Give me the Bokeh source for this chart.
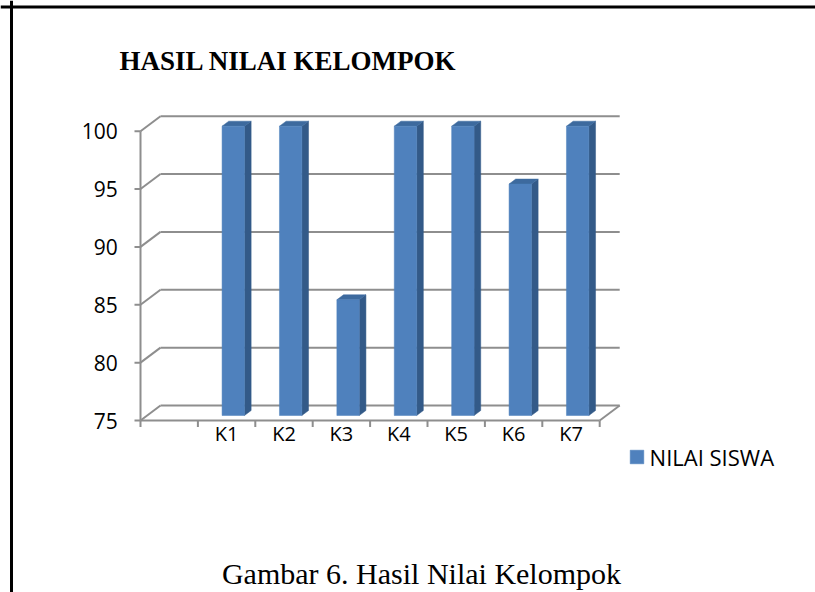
import numpy as np
from bokeh.plotting import figure
from bokeh.models import Range1d, Label, Span, Legend, LegendItem
from bokeh.embed import file_html
from bokeh.resources import INLINE
from bokeh.core.properties import value

# ---------------- data ----------------
categories = ["K1", "K2", "K3", "K4", "K5", "K6", "K7"]
nilai = [100, 100, 85, 100, 100, 95, 100]
y_ticks = [75, 80, 85, 90, 95, 100]
series_name = "NILAI SISWA"
title_text = "HASIL NILAI  KELOMPOK"
caption_text = "Gambar 6. Hasil Nilai Kelompok"

# ---------------- layout ----------------
W, H = 815, 592
X0_PX = 140.0      # px of the front value axis
YMIN_PX = 420.0    # px of the axis minimum on the front plane
PXX = 57.4         # px per category slot
PXY = 11.572       # px per value unit
first_slot = 1     # an empty slot precedes K1
n_slots = len(categories) + first_slot

ymin, ymax = min(y_ticks), max(y_ticks)
x_start = -X0_PX / PXX
x_end = (W - X0_PX) / PXX
y_top = ymin + YMIN_PX / PXY
y_bottom = ymin - (H - YMIN_PX) / PXY

DX = 20 / PXX      # depth offset (x) in data units
DY = 15 / PXY      # depth offset (y) in data units

GRID = "#8E8E8E"
FRONT = "#4F81BD"
SIDE = "#335A88"
TOP = "#3D6A9E"
FONT = "Open Sans"

p = figure(width=W, height=H, x_range=Range1d(x_start, x_end),
           y_range=Range1d(y_bottom, y_top), output_backend="svg",
           toolbar_location=None, x_axis_type=None, y_axis_type=None,
           min_border=0, title=None)
p.outline_line_color = None
p.background_fill_color = "white"
p.border_fill_color = "white"

# back wall gridlines
p.multi_line([[DX, n_slots + DX] for v in y_ticks],
             [[v + DY, v + DY] for v in y_ticks], line_color=GRID, line_width=2)
# left wall diagonals
p.multi_line([[0, DX] for v in y_ticks],
             [[v, v + DY] for v in y_ticks], line_color=GRID, line_width=2)
# front value axis
p.line([0, 0], [ymin, ymax], line_color=GRID, line_width=2)
# floor front edge and right edge
p.line([0, n_slots], [ymin, ymin], line_color=GRID, line_width=2)
p.line([n_slots, n_slots + DX], [ymin, ymin + DY], line_color=GRID, line_width=2)
# value ticks
p.segment(x0=[-6 / PXX] * len(y_ticks), y0=y_ticks, x1=[0] * len(y_ticks), y1=y_ticks,
          line_color=GRID, line_width=2)
# category ticks
cat_edges = list(range(n_slots + 1))
p.segment(x0=cat_edges, y0=[ymin] * len(cat_edges), x1=cat_edges,
          y1=[ymin - 6.5 / PXY] * len(cat_edges), line_color=GRID, line_width=2)

# bars (3D columns)
bw = 22.4 / PXX
idx = np.arange(len(categories))
cx = first_slot + idx + 0.5 + DX / 3
left = cx - bw / 2
right = cx + bw / 2
base = ymin + DY / 3
tops = np.array(nilai, dtype=float) + DY / 3
d_x, d_y = DX / 3, DY / 3

side_xs = [[r, r + d_x, r + d_x, r] for r in right]
side_ys = [[base, base + d_y, t + d_y, t] for t in tops]
top_xs = [[l, r, r + d_x, l + d_x] for l, r in zip(left, right)]
top_ys = [[t, t, t + d_y, t + d_y] for t in tops]

p.patches(side_xs, side_ys, fill_color=SIDE, line_color=SIDE, line_width=0.5)
p.patches(top_xs, top_ys, fill_color=TOP, line_color=TOP, line_width=0.5)
front = p.quad(left=left, right=right, bottom=[base] * len(categories), top=tops,
               fill_color=FRONT, line_color=FRONT, line_width=0.5)

# value tick labels
p.text(x=[-22.7 / PXX] * len(y_ticks), y=y_ticks, text=[str(v) for v in y_ticks],
       text_align="right", text_baseline="middle", text_font=value(FONT),
       text_font_size="21px", text_color="black")
# category labels
p.text(x=list(first_slot + idx + 0.5), y=[ymin - 12.5 / PXY] * len(categories),
       text=categories, text_align="center", text_baseline="middle",
       text_font=value(FONT), text_font_size="20px", text_color="black")

# legend
legend = Legend(items=[LegendItem(label=series_name, renderers=[front])],
                location=(627.6, H - 456.7 - 15))
legend.glyph_width = 17
legend.glyph_height = 17
legend.label_standoff = 5
legend.padding = 0
legend.margin = 0
legend.spacing = 0
legend.border_line_color = None
legend.background_fill_alpha = 0
legend.label_text_font = FONT
legend.label_text_font_size = "22px"
legend.label_text_color = "black"
p.add_layout(legend)

# title and caption
p.add_layout(Label(x=119, y=H - 60, x_units="screen", y_units="screen",
                   text=title_text, text_font="Liberation Serif", text_font_style="bold",
                   text_font_size="27px", text_align="left", text_baseline="middle",
                   text_color="black"))
p.add_layout(Label(x=421, y=H - 573, x_units="screen", y_units="screen",
                   text=caption_text, text_font="Liberation Serif",
                   text_font_size="30px", text_align="center", text_baseline="middle",
                   text_color="black"))

# frame border (left and top edges)
p.add_layout(Span(location=x_start + 11 / PXX, dimension="height",
                  line_color="black", line_width=3))
p.add_layout(Span(location=y_top - 6.5 / PXY, dimension="width",
                  line_color="black", line_width=3))

open("out.html", "w").write(file_html(p, INLINE))
